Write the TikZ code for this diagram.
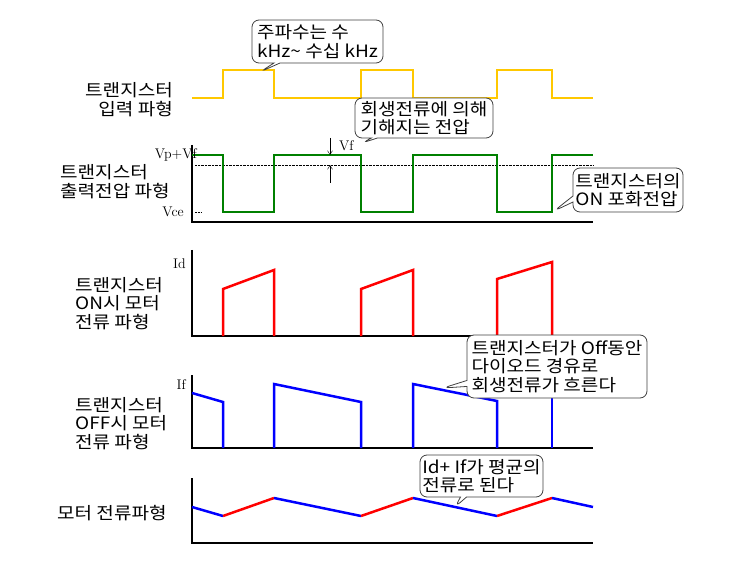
\documentclass[tikz,border=0pt]{standalone}
\usepackage{fontspec}
\newfontfamily\krfont[FakeStretch=1.12]{Noto Sans CJK KR}
\usetikzlibrary{shapes.callouts,arrows.meta}
\definecolor{wavegold}{RGB}{255,200,0}
\definecolor{wavegreen}{RGB}{0,128,0}
\begin{document}
\begin{tikzpicture}[
    x=1pt, y=-1pt,
    axis/.style={line width=2.5pt},
    wave/.style={line width=2.5pt, line join=miter},
    inwave/.style={wave, wavegold},
    outwave/.style={wave, wavegreen},
    idwave/.style={wave, red},
    ifwave/.style={wave, blue},
    krlabel/.style={font={\krfont\fontsize{17}{18.5}\selectfont}, inner sep=0pt},
    vlabel/.style={font={\fontsize{14}{15}\selectfont}, inner sep=0pt},
    note/.style={rectangle callout, draw=black!75, fill=white, thick,
        rounded corners=7pt, inner sep=0pt, align=left,
        font={\krfont\fontsize{17}{18.5}\selectfont}, callout pointer width=6pt},
    vfarrow/.style={-{Straight Barb[length=4pt,width=5pt]}, thin},
    >=latex
]
\useasboundingbox (0,0) rectangle (747,588);

% Beschriftungen links
\node[krlabel, anchor=east, align=right] (inlabel) at (173,99.5) {트랜지스터\\입력 파형};
\node[krlabel, anchor=west, align=left] (outlabel) at (60,181.5) {트랜지스터\\출력전압 파형};
\node[krlabel, anchor=west, align=left] (onlabel) at (75,303.5) {트랜지스터\\ON시 모터\\전류 파형};
\node[krlabel, anchor=west, align=left] (offlabel) at (75,423.5) {트랜지스터\\OFF시 모터\\전류 파형};
\node[krlabel, anchor=west] (motorlabel) at (57,513) {모터 전류파형};

% Eingangssignal
\draw[inwave] (192,98) -- (223,98) -- (223,70) -- (274,70) -- (274,98)
    -- (361,98) -- (361,70) -- (413,70) -- (413,98)
    -- (497,98) -- (497,70) -- (552,70) -- (552,98) -- (593,98);

% Ausgangsspannung
\draw[axis] (192,145) -- (192,222) -- (593,222);
\draw[densely dotted] (195,165) -- (593,165);
\draw[densely dotted] (195,212) -- (201,212);
\draw[outwave] (192,155) -- (223,155) -- (223,212) -- (274,212) -- (274,155)
    -- (361,155) -- (361,212) -- (413,212) -- (413,155)
    -- (497,155) -- (497,212) -- (552,212) -- (552,155) -- (593,155);
\node[vlabel, anchor=east] (vplabel) at (197,155) {Vp+Vf};
\node[vlabel, anchor=east] (vcelabel) at (184,212) {Vce};

% Vf Pfeile
\coordinate (vfup) at (330,138);
\coordinate (vftop) at (330,155);
\coordinate (vflow) at (330,183);
\coordinate (vfdot) at (330,165);
\draw[vfarrow] (vfup) -- (vftop);
\draw[vfarrow] (vflow) -- (vfdot);
\node[vlabel, anchor=west] (vflabel) at (339,146) {Vf};

% Strom bei ON
\draw[axis] (192,250) -- (192,336) -- (593,336);
\node[vlabel, anchor=east] (idlabel) at (186,264) {Id};
\draw[idwave] (223,336) -- (223,289) -- (274,270) -- (274,336);
\draw[idwave] (361,336) -- (361,289) -- (413,270) -- (413,336);
\draw[idwave] (497,336) -- (497,279) -- (552,262) -- (552,336);

% Strom bei OFF
\draw[axis] (192,375) -- (192,448) -- (593,448);
\node[vlabel, anchor=east] (iflabel) at (186,385) {If};
\draw[ifwave] (192,393) -- (223,402) -- (223,448);
\draw[ifwave] (274,448) -- (274,384) -- (361,402) -- (361,448);
\draw[ifwave] (413,448) -- (413,384) -- (497,401) -- (497,448);
\draw[ifwave] (552,448) -- (552,384);

% Motorstrom
\draw[axis] (192,478) -- (192,543) -- (593,543);
\draw[ifwave] (192,507) -- (223,516);
\draw[idwave] (223,516) -- (274,498);
\draw[ifwave] (274,498) -- (361,516);
\draw[idwave] (361,516) -- (413,498);
\draw[ifwave] (413,498) -- (497,516);
\draw[idwave] (497,516) -- (552,498);
\draw[ifwave] (552,498) -- (593,507);

% Sprechblasen
\node[note, minimum width=131pt, minimum height=43pt,
    callout absolute pointer={(260,72)}] (freqnote) at (317.5,41.5)
    {주파수는 수\\kHz\textasciitilde{} 수십 kHz};
\node[note, minimum width=138pt, minimum height=40pt,
    callout absolute pointer={(362,143)}] (regennote) at (424,118)
    {회생전류에 의해\\기해지는 전압};
\node[note, minimum width=110pt, minimum height=44pt,
    callout absolute pointer={(554,211)}] (satnote) at (628,190)
    {트랜지스터의\\ON 포화전압};
\node[note, minimum width=180pt, minimum height=63pt,
    callout absolute pointer={(443,388)}] (diodenote) at (557,366.5)
    {트랜지스터가 Off동안\\다이오드 경유로\\회생전류가 흐른다};
\node[note, minimum width=123pt, minimum height=42pt,
    callout absolute pointer={(455,507)}] (avgnote) at (481.5,476)
    {Id+ If가 평균의\\전류로 된다};
\end{tikzpicture}
\end{document}
